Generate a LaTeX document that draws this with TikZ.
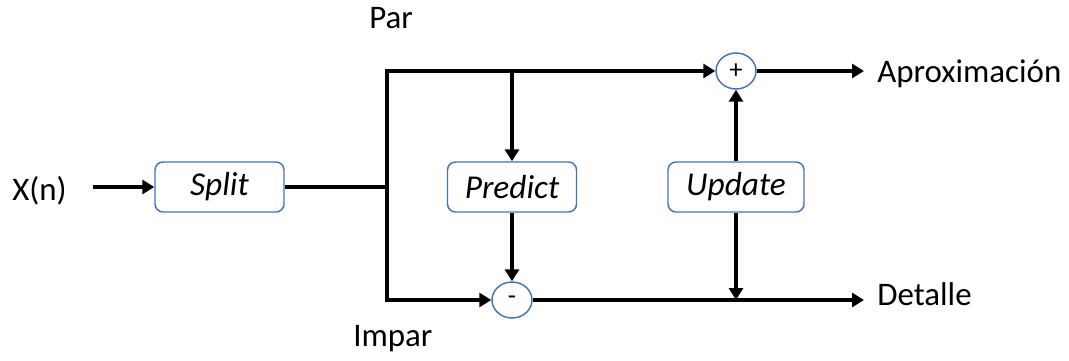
\documentclass[tikz,border=0pt]{standalone}
\usepackage{fontspec}
\setmainfont{Carlito}
\usetikzlibrary{arrows.meta,shapes.geometric,positioning}

\definecolor{boxblue}{HTML}{4472C4}

\begin{document}
\begin{tikzpicture}[x=0.75pt,y=-0.75pt,font=\fontsize{24.7}{29}\selectfont,
	block/.style={draw=boxblue,line width=1.1pt,rounded corners=6pt,minimum height=37.5pt,inner sep=0pt,font=\fontsize{25}{29}\selectfont\itshape},
	sum/.style={ellipse,draw=boxblue,line width=1.1pt,minimum width=30pt,minimum height=27pt,inner sep=0pt,font=\fontsize{20}{24}\selectfont},
	wire/.style={line width=3pt},
	signal/.style={wire,-{Triangle[length=9pt,width=10.5pt]}}]

	\useasboundingbox (0,0) rectangle (1069,360);

	\node [block,minimum width=96.75pt] (split) at (219.5,187) {Split};
	\node [block,minimum width=96.75pt] (predict) at (512,187) {Predict};
	\node [block,minimum width=102pt] (update) at (736,187) {Update};

	\node [sum] (plus) at (736,71) {+};
	\node [sum] (minus) at (512,300) {-};

	\coordinate (branch) at (387,187);
	\coordinate (x-start) at (93,187);
	\coordinate (aprox-end) at (864,71);
	\coordinate (detalle-end) at (864,300);

	%%%%%%%%%%%%%%%%%%%%%%%%%%%%%%%%%%%%%%%%%%%%%%%%%%%%%%

	\node [anchor=base west,inner sep=0pt] (x-text) at (12,200) {X(n)};
	\node [anchor=base west,inner sep=0pt] (par-text) at (369,29) {Par};
	\node [anchor=base west,inner sep=0pt] (impar-text) at (353,346) {Impar};
	\node [anchor=base west,inner sep=0pt] (aprox-text) at (877,83) {Aproximación};
	\node [anchor=base west,inner sep=0pt] (detalle-text) at (877,305) {Detalle};

	%%%%%%%%%%%%%%%%%%%%%%%%%%%%%%%%%%%%%%%%%%%%%%%%%%%%%%

	\draw [signal] (x-start) -- (split.west);
	\draw [wire] (split.east) -- (branch);
	\draw [signal] (branch) |- (plus.west);
	\draw [signal] (branch) |- (minus.west);
	%
	\draw [signal] (predict.north |- plus.west) -- (predict.north);
	\draw [signal] (predict.south) -- (minus.north);
	\draw [signal] (update.south) -- (update.south |- minus.east);
	\draw [signal] (update.north) -- (plus.south);
	%
	\draw [signal] (plus.east) -- (aprox-end);
	\draw [signal] (minus.east) -- (detalle-end);

\end{tikzpicture}
\end{document}
